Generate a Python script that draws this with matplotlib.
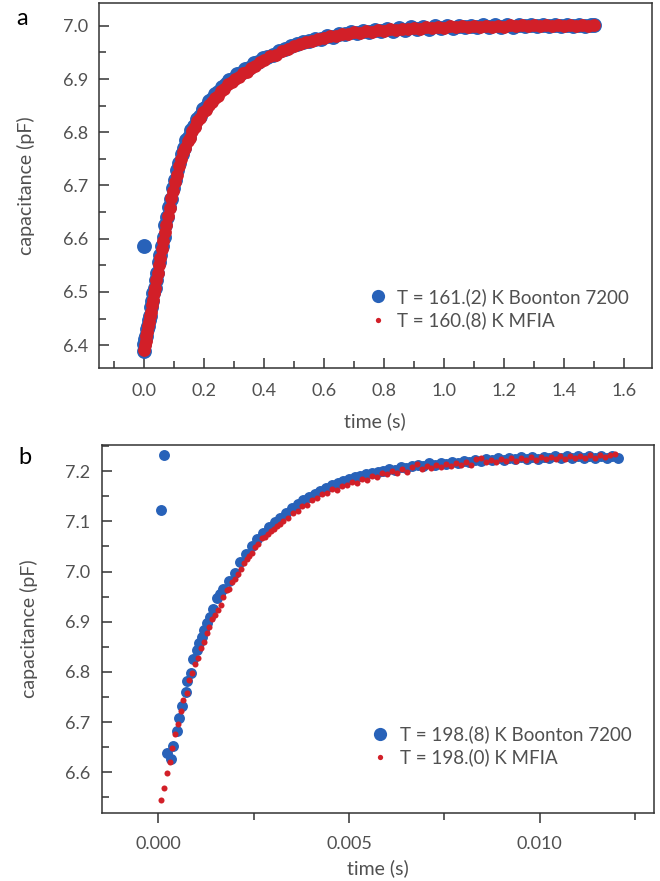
import matplotlib
matplotlib.use("Agg")
import matplotlib.pyplot as plt
from matplotlib.lines import Line2D
from matplotlib.ticker import MultipleLocator, FormatStrFormatter

# ── data: panel a (long window, seconds) ──────────────────────────────────
boonton_a_t = [0.000, 0.000, 0.002, 0.005, 0.008, 0.011, 0.014, 0.017, 0.020, 0.024,
               0.028, 0.032, 0.036, 0.040, 0.045, 0.050, 0.055, 0.060, 0.066, 0.072,
               0.078, 0.084, 0.090, 0.097, 0.104, 0.111, 0.118, 0.126, 0.134, 0.142,
               0.150, 0.159, 0.168, 0.177, 0.186, 0.196, 0.206, 0.216, 0.227, 0.238,
               0.249, 0.261, 0.273, 0.285, 0.298, 0.311, 0.324, 0.338, 0.352, 0.366,
               0.381, 0.396,
               0.41, 0.43, 0.45, 0.47, 0.49, 0.51, 0.53, 0.55, 0.57, 0.59,
               0.61, 0.63, 0.65, 0.67, 0.69, 0.71, 0.73, 0.75, 0.77, 0.79,
               0.81, 0.83, 0.85, 0.87, 0.89, 0.91, 0.93, 0.95, 0.97, 0.99,
               1.01, 1.03, 1.05, 1.07, 1.09, 1.11, 1.13, 1.15, 1.17, 1.19,
               1.21, 1.23, 1.25, 1.27, 1.29, 1.31, 1.33, 1.35, 1.37, 1.39,
               1.41, 1.43, 1.45, 1.47, 1.49, 1.50]
boonton_a_c = [6.586, 6.389, 6.402, 6.412, 6.418, 6.430, 6.436, 6.448, 6.454, 6.471,
               6.482, 6.498, 6.507, 6.522, 6.536, 6.557, 6.569, 6.587, 6.603, 6.625,
               6.640, 6.660, 6.674, 6.695, 6.710, 6.729, 6.742, 6.760, 6.770, 6.785,
               6.792, 6.805, 6.812, 6.825, 6.831, 6.843, 6.847, 6.858, 6.862, 6.872,
               6.875, 6.886, 6.890, 6.898, 6.901, 6.909, 6.911, 6.919, 6.921, 6.930,
               6.933, 6.940,
               6.941, 6.946, 6.952, 6.956, 6.962, 6.965, 6.970, 6.971, 6.976, 6.976,
               6.981, 6.980, 6.985, 6.984, 6.988, 6.986, 6.991, 6.988, 6.993, 6.990,
               6.995, 6.991, 6.996, 6.993, 6.997, 6.994, 6.998, 6.995, 6.999, 6.996,
               6.999, 6.996, 7.000, 6.997, 7.000, 6.997, 7.001, 6.998, 7.001, 6.998,
               7.001, 6.998, 7.002, 6.999, 7.001, 6.999, 7.002, 6.999, 7.002, 6.999,
               7.002, 6.999, 7.002, 6.999, 7.001, 7.001]

mfia_a_t = [0.000, 0.003, 0.006, 0.009, 0.012, 0.015, 0.018, 0.021, 0.024, 0.027,
            0.030, 0.034, 0.038, 0.042, 0.046, 0.050, 0.055, 0.060, 0.065, 0.070,
            0.075, 0.080, 0.086, 0.092, 0.098, 0.104, 0.110, 0.117, 0.124, 0.131,
            0.138, 0.146, 0.154, 0.162, 0.170, 0.179, 0.188, 0.197, 0.206, 0.216,
            0.226, 0.236, 0.247, 0.258, 0.269, 0.281, 0.293, 0.305, 0.318, 0.331,
            0.344, 0.358, 0.372, 0.386, 0.400,
            0.42, 0.44, 0.46, 0.48, 0.50, 0.52, 0.54, 0.56, 0.58, 0.60,
            0.62, 0.64, 0.66, 0.68, 0.70, 0.72, 0.74, 0.76, 0.78, 0.80,
            0.82, 0.84, 0.86, 0.88, 0.90, 0.92, 0.94, 0.96, 0.98, 1.00,
            1.02, 1.04, 1.06, 1.08, 1.10, 1.12, 1.14, 1.16, 1.18, 1.20,
            1.22, 1.24, 1.26, 1.28, 1.30, 1.32, 1.34, 1.36, 1.38, 1.40,
            1.42, 1.44, 1.46, 1.48, 1.50]
mfia_a_c = [6.390, 6.400, 6.407, 6.418, 6.425, 6.436, 6.443, 6.454, 6.463, 6.475,
            6.484, 6.498, 6.508, 6.523, 6.535, 6.551, 6.564, 6.581, 6.595, 6.613,
            6.626, 6.643, 6.658, 6.676, 6.690, 6.707, 6.719, 6.737, 6.749, 6.763,
            6.771, 6.784, 6.790, 6.802, 6.809, 6.821, 6.827, 6.838, 6.842, 6.852,
            6.856, 6.865, 6.869, 6.878, 6.882, 6.890, 6.894, 6.901, 6.904, 6.911,
            6.914, 6.921, 6.924, 6.932, 6.935,
            6.943, 6.946, 6.953, 6.956, 6.963, 6.965, 6.970, 6.971, 6.976, 6.977,
            6.981, 6.981, 6.985, 6.984, 6.988, 6.987, 6.990, 6.989, 6.992, 6.991,
            6.994, 6.992, 6.995, 6.994, 6.996, 6.995, 6.997, 6.996, 6.998, 6.996,
            6.999, 6.997, 6.999, 6.997, 6.999, 6.998, 7.000, 6.998, 7.000, 6.998,
            7.001, 6.999, 7.001, 6.999, 7.001, 6.999, 7.001, 6.999, 7.001, 6.999,
            7.001, 6.999, 7.001, 6.999, 7.001]

# ── data: panel b (short window, milliseconds) ───────────────────────────
boonton_b_ms = [0.079, 0.157, 0.23, 0.33, 0.39, 0.48, 0.55, 0.63, 0.72, 0.76,
                0.85, 0.92, 1.01, 1.08, 1.14, 1.20, 1.28, 1.36, 1.43, 1.53, 1.62,
                1.70, 1.85, 2.00, 2.15, 2.30, 2.45, 2.60, 2.75, 2.90, 3.05,
                3.20, 3.35, 3.50, 3.65, 3.80, 3.95, 4.10, 4.25, 4.40, 4.55,
                4.70, 4.85, 5.00, 5.15, 5.30, 5.45, 5.60, 5.75, 5.90, 6.05,
                6.20, 6.35, 6.50, 6.65, 6.80, 6.95, 7.10, 7.25, 7.40, 7.55,
                7.70, 7.85, 8.00, 8.15, 8.30, 8.45, 8.60, 8.75, 8.90, 9.05,
                9.20, 9.35, 9.50, 9.65, 9.80, 9.95, 10.10, 10.25, 10.40, 10.55,
                10.70, 10.85, 11.00, 11.15, 11.30, 11.45, 11.60, 11.75, 11.90, 12.05]
boonton_b_c = [7.122, 7.232, 6.638, 6.626, 6.652, 6.683, 6.708, 6.732, 6.761, 6.782,
               6.798, 6.825, 6.844, 6.857, 6.870, 6.883, 6.897, 6.910, 6.925, 6.947, 6.955,
               6.966, 6.982, 6.998, 7.019, 7.035, 7.050, 7.064, 7.077, 7.088, 7.098,
               7.107, 7.117, 7.126, 7.134, 7.142, 7.148, 7.155, 7.161, 7.167, 7.172,
               7.176, 7.181, 7.184, 7.188, 7.190, 7.194, 7.196, 7.199, 7.200, 7.204,
               7.203, 7.208, 7.206, 7.211, 7.213, 7.211, 7.216, 7.213, 7.217, 7.215,
               7.219, 7.217, 7.220, 7.218, 7.223, 7.221, 7.225, 7.222, 7.226, 7.223,
               7.227, 7.224, 7.228, 7.225, 7.229, 7.225, 7.229, 7.226, 7.230, 7.226,
               7.230, 7.227, 7.231, 7.227, 7.231, 7.227, 7.231, 7.227, 7.230, 7.226]

mfia_b_ms = [0.063, 0.141, 0.220, 0.307, 0.367, 0.446, 0.524, 0.587, 0.655, 0.744,
             0.813, 0.891, 0.962, 1.040, 1.120, 1.190, 1.270, 1.340, 1.410, 1.490,
             1.560, 1.640, 1.710, 1.790, 1.850, 1.930, 2.010, 2.080, 2.160, 2.240,
             2.320, 2.380, 2.460, 2.540, 2.620, 2.710, 2.790, 2.870, 2.950, 3.030,
             3.110, 3.190,
             3.26, 3.39, 3.52, 3.65, 3.78, 3.91, 4.04, 4.17, 4.30, 4.43,
             4.56, 4.69, 4.82, 4.95, 5.08, 5.21, 5.34, 5.47, 5.60, 5.73,
             5.86, 5.99, 6.12, 6.25, 6.38, 6.51, 6.64, 6.77, 6.90, 7.03,
             7.16, 7.29, 7.42, 7.55, 7.68, 7.81, 7.94, 8.07, 8.20, 8.33,
             8.46, 8.59, 8.72, 8.85, 8.98, 9.11, 9.24, 9.37, 9.50, 9.63,
             9.76, 9.89, 10.02, 10.15, 10.28, 10.41, 10.54, 10.67, 10.80, 10.93,
             11.06, 11.19, 11.32, 11.45, 11.58, 11.71, 11.84, 11.97]
mfia_b_c = [6.545, 6.569, 6.599, 6.621, 6.648, 6.676, 6.696, 6.722, 6.744, 6.759,
            6.784, 6.798, 6.816, 6.828, 6.848, 6.860, 6.877, 6.890, 6.906, 6.913,
            6.923, 6.933, 6.949, 6.963, 6.966, 6.979, 6.986, 6.996, 7.006, 7.017,
            7.025, 7.031, 7.036, 7.049, 7.054, 7.066, 7.068, 7.074, 7.080, 7.084,
            7.090, 7.095,
            7.101, 7.106, 7.117, 7.120, 7.131, 7.133, 7.143, 7.146, 7.155, 7.156,
            7.164, 7.163, 7.171, 7.172, 7.179, 7.177, 7.184, 7.183, 7.191, 7.189,
            7.196, 7.194, 7.201, 7.196, 7.204, 7.199, 7.208, 7.215, 7.205, 7.210,
            7.207, 7.213, 7.208, 7.214, 7.210, 7.216, 7.212, 7.218, 7.213, 7.224,
            7.226, 7.219, 7.222, 7.218, 7.224, 7.220, 7.226, 7.221, 7.227, 7.222,
            7.228, 7.223, 7.229, 7.224, 7.229, 7.225, 7.230, 7.225, 7.231, 7.226,
            7.231, 7.227, 7.232, 7.227, 7.232, 7.228, 7.233, 7.234]

labels_a = ["T = 161.(2) K Boonton 7200", "T = 160.(8) K MFIA"]
labels_b = ["T = 198.(8) K Boonton 7200", "T = 198.(0) K MFIA"]

# ── style ────────────────────────────────────────────────────────────────
BLUE = "#2862b9"
RED = "#d21f28"
TXT = "#505050"
plt.rcParams["font.family"] = ["Lato", "DejaVu Sans"]
FS = 13

fig = plt.figure(figsize=(6.6, 8.81), dpi=100)
ax_a = fig.add_axes([0.150, 0.5823, 0.8374, 0.4143])
ax_b = fig.add_axes([0.1541, 0.0775, 0.8368, 0.4174])


def style_axes(ax, xdir, xpad, xlpad):
    for sp in ax.spines.values():
        sp.set_color("#333333")
        sp.set_linewidth(1.1)
    ax.tick_params(axis="y", which="both", direction="in", colors="#333333",
                   labelcolor=TXT, labelsize=FS, pad=8)
    ax.tick_params(axis="x", which="both", direction=xdir, colors="#333333",
                   labelcolor=TXT, labelsize=FS, pad=xpad)
    ax.tick_params(which="major", length=7, width=1.1)
    ax.tick_params(which="minor", length=5, width=1.1)
    ax.set_ylabel("capacitance (pF)", fontsize=14, color=TXT, labelpad=20)
    ax.set_xlabel("time (s)", fontsize=14, color=TXT, labelpad=xlpad)


def add_legend(ax, labels, anchor):
    handles = [Line2D([], [], ls="none", marker="o", ms=9.5, color=BLUE, mec="none"),
               Line2D([], [], ls="none", marker="o", ms=3.8, color=RED, mec="none")]
    ax.legend(handles, labels, loc="lower left", bbox_to_anchor=anchor,
              frameon=False, fontsize=13.5, handletextpad=0.45, handlelength=1.2,
              labelspacing=0.3, labelcolor=TXT, borderaxespad=0)


# panel a
ax_a.scatter(boonton_a_t, boonton_a_c, s=115, color=BLUE, lw=0, zorder=3)
ax_a.scatter(mfia_a_t, mfia_a_c, s=85, color=RED, lw=0, zorder=4)
ax_a.set_xlim(-0.149, 1.693)
ax_a.set_ylim(6.357, 7.043)
ax_a.xaxis.set_major_locator(MultipleLocator(0.2))
ax_a.xaxis.set_minor_locator(MultipleLocator(0.1))
ax_a.yaxis.set_major_locator(MultipleLocator(0.1))
ax_a.yaxis.set_minor_locator(MultipleLocator(0.05))
ax_a.xaxis.set_major_formatter(FormatStrFormatter("%.1f"))
ax_a.yaxis.set_major_formatter(FormatStrFormatter("%.1f"))
style_axes(ax_a, "in", 11, 9)
add_legend(ax_a, labels_a, (0.47, 0.085))

# panel b
ax_b.scatter([v / 1000 for v in boonton_b_ms], boonton_b_c, s=62, color=BLUE, lw=0, zorder=3)
ax_b.scatter([v / 1000 for v in mfia_b_ms], mfia_b_c, s=19, color=RED, lw=0, zorder=4)
ax_b.set_xlim(-0.00148, 0.01299)
ax_b.set_ylim(6.5196, 7.252)
ax_b.xaxis.set_major_locator(MultipleLocator(0.005))
ax_b.xaxis.set_minor_locator(MultipleLocator(0.0025))
ax_b.yaxis.set_major_locator(MultipleLocator(0.1))
ax_b.yaxis.set_minor_locator(MultipleLocator(0.05))
ax_b.xaxis.set_major_formatter(FormatStrFormatter("%.3f"))
ax_b.yaxis.set_major_formatter(FormatStrFormatter("%.1f"))
style_axes(ax_b, "out", 10, 5)
add_legend(ax_b, labels_b, (0.47, 0.105))

fig.text(0.033, 0.979, "a", fontsize=17, color="black", ha="center", va="center")
fig.text(0.038, 0.481, "b", fontsize=17, color="black", ha="center", va="center")

fig.savefig("out.png", dpi=100)
